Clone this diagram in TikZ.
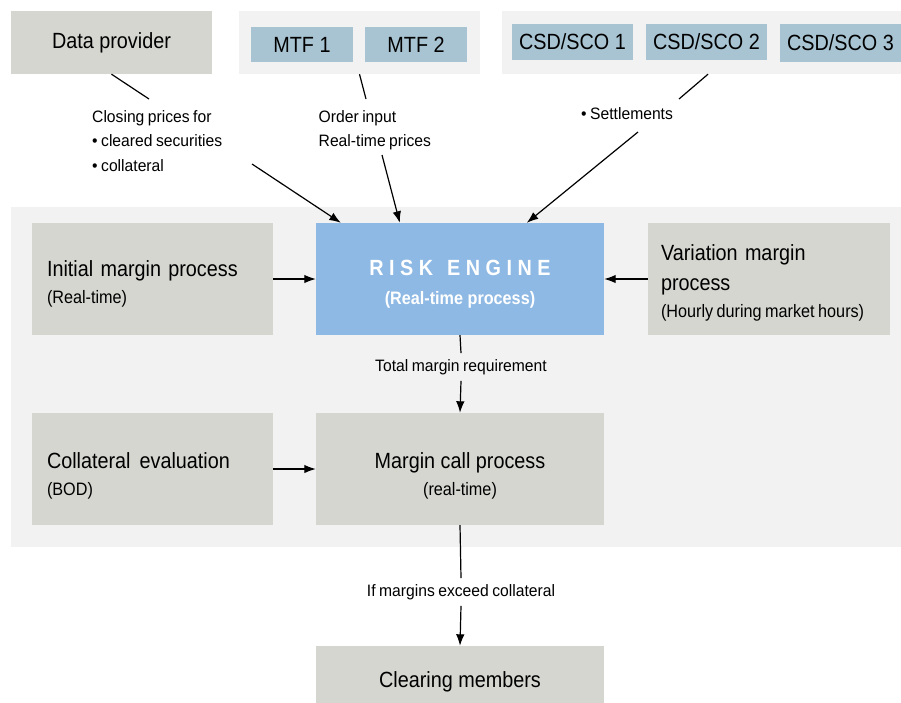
\documentclass[tikz,border=0pt]{standalone}
\usepackage{fontspec}
\setmainfont{Liberation Sans}[FakeStretch=0.9]
\newfontfamily\lblfont{Liberation Sans}[FakeStretch=0.95,WordSpace=0.8]
\newfontfamily\subfont{Liberation Sans}[FakeStretch=0.9]
\usetikzlibrary{arrows.meta,calc}
\definecolor{boxgrey}{RGB}{214,214,209}
\definecolor{bggrey}{RGB}{242,242,242}
\definecolor{tileblue}{RGB}{168,196,210}
\definecolor{engblue}{RGB}{142,185,228}
\newcommand\firstline[1]{\rule{0pt}{#1}}
\begin{document}
\begin{tikzpicture}[x=1pt,y=-1pt,
  bgpanel/.style={fill=bggrey, draw=none, inner sep=0pt},
  greybox/.style={fill=boxgrey, draw=none, inner sep=0pt, font=\fontsize{22}{27}\selectfont},
  tile/.style={fill=tileblue, draw=none, inner sep=0pt, font=\fontsize{22}{26}\selectfont},
  engine/.style={fill=engblue, draw=none, inner sep=0pt, text=white, font=\bfseries\fontsize{22}{29}\selectfont},
  lbl/.style={inner sep=0pt, font=\lblfont\fontsize{16.5}{24.5}\selectfont},
  arr/.style={-{Latex[length=11.5pt,width=8.5pt]}, line width=1.2pt},
  plain/.style={line width=1.2pt}]
\clip (0,0) rectangle (901,702);
\fill[white] (0,0) rectangle (901,702);

% background panels
\node[bgpanel, minimum width=890pt, minimum height=340pt] (mainbg) at (456,377) {};
\node[bgpanel, minimum width=241pt, minimum height=63pt] (mtfg) at (359.5,42.5) {};
\node[bgpanel, minimum width=399pt, minimum height=63pt] (csdg) at (701.5,42.5) {};

% top row
\node[greybox, minimum width=201pt, minimum height=63pt] (dp) at (111.5,42.5) {Data provider};
\node[tile, minimum width=102pt, minimum height=35pt] (mtf1) at (302,44.5) {MTF 1};
\node[tile, minimum width=102pt, minimum height=35pt] (mtf2) at (416,44.5) {MTF 2};
\node[tile, minimum width=121pt, minimum height=36pt] (csd1) at (572.5,42) {CSD/SCO 1};
\node[tile, minimum width=121pt, minimum height=36pt] (csd2) at (706.5,42) {CSD/SCO 2};
\node[tile, minimum width=121pt, minimum height=38pt] (csd3) at (840.5,43) {CSD/SCO 3};

% middle row
\node[greybox, minimum width=241pt, minimum height=112pt, text width=211pt, align=left] (im) at (152.5,279)
  {\firstline{25pt}Initial margin process\\{\subfont\fontsize{18}{27}\selectfont (Real-time)}};
\node[engine, minimum width=288pt, minimum height=112pt, align=center] (re) at (460,279)
  {\firstline{25pt}R\kern5.5pt I\kern5.5pt S\kern5.5pt K\hspace{14pt}E\kern5.5pt N\kern5.5pt G\kern5.5pt I\kern5.5pt N\kern5.5pt E\\{\fontsize{18}{29}\selectfont (Real-time process)}};
\node[greybox, font=\fontsize{22}{30}\selectfont, minimum width=242pt, minimum height=112pt, text width=216pt, align=left] (vm) at (769,279)
  {\firstline{24pt}Variation margin\\process\\[-3pt]{\subfont\fontsize{18}{30}\selectfont\mbox{(Hourly\hspace{3.5pt}during\hspace{3.5pt}market\hspace{3.5pt}hours)}}};

% lower row
\node[greybox, minimum width=241pt, minimum height=112pt, text width=211pt, align=left] (ce) at (152.5,469)
  {\firstline{29pt}Collateral\hspace{9pt}evaluation\\{\subfont\fontsize{18}{27}\selectfont (BOD)}};
\node[greybox, minimum width=288pt, minimum height=112pt, align=center] (mc) at (460,469)
  {\firstline{29pt}Margin call process\\{\subfont\fontsize{18}{27}\selectfont (real-time)}};
\node[greybox, minimum width=288pt, minimum height=72pt] (cm) at (460,682) {Clearing members};

% labels
\node[lbl, anchor=north west, align=left] (lcp) at (92,110) {Closing prices for\\• cleared securities\\• collateral};
\node[lbl, anchor=north west, align=left] (loi) at (318.5,110) {Order input\\Real-time prices};
\node[lbl, anchor=north west] (lst) at (581,107) {• Settlements};
\node[lbl, inner ysep=6pt] (tmr) at (461,367) {Total margin requirement};
\node[lbl, inner ysep=6pt] (ime) at (461,592) {If margins exceed collateral};

% break points of the slanted connectors
\coordinate (a1) at (149,99);
\coordinate (a2) at (252,164);
\coordinate (b1) at (366,99);
\coordinate (b2) at (382,155);
\coordinate (c1) at (679,99);
\coordinate (c2) at (638,132);

% connectors
\draw[plain] (dp.south) -- (a1);
\draw[arr] (a2) -- ($(re.north west)+(25,0)$);
\draw[plain] (mtfg.south) -- (b1);
\draw[arr] (b2) -- ($(re.north west)+(84,0)$);
\draw[plain] ($(csdg.south)+(6.5,0)$) -- (c1);
\draw[arr] (c2) -- ($(re.north west)+(211,0)$);

\draw[arr] (im.east) -- (re.west);
\draw[arr] (vm.west) -- (re.east);
\draw[plain] (re.south) -- (tmr.north);
\draw[arr] (tmr.south) -- (mc.north);
\draw[arr] (ce.east) -- (mc.west);
\draw[plain] (mc.south) -- (ime.north);
\draw[arr] (ime.south) -- (cm.north);
\end{tikzpicture}
\end{document}
